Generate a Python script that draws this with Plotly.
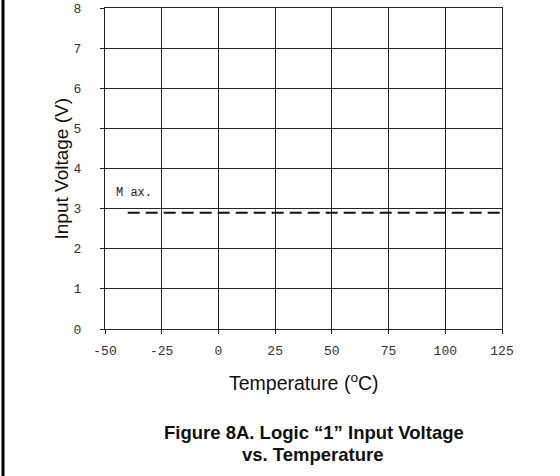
import plotly.graph_objects as go

# Data
temperature = [-40, 125]
vih_max = [2.9, 2.9]
x_ticks = [-50, -25, 0, 25, 50, 75, 100, 125]
y_ticks = [0, 1, 2, 3, 4, 5, 6, 7, 8]

W, H = 560, 476
L, R, T, B = 105, 58, 8, 147
pw, ph = W - L - R, H - T - B

def px_x(p):
    return (p - L) / pw

def px_y(p):
    return (H - B - p) / ph

fig = go.Figure()
fig.add_trace(go.Scatter(
    x=temperature, y=vih_max, mode="lines",
    line=dict(color="#111111", width=2, dash="12px,6px"),
    showlegend=False, hoverinfo="skip",
))

tickfont = dict(family="Liberation Mono, Courier New, monospace", size=13, color="#333333")
sans = "Liberation Sans, Arial, sans-serif"

fig.update_layout(
    width=W, height=H,
    margin=dict(l=L, r=R, t=T, b=B, pad=0),
    paper_bgcolor="white", plot_bgcolor="white",
    showlegend=False,
    xaxis=dict(
        range=[-50, 125], tickmode="array", tickvals=x_ticks,
        ticktext=[str(v) for v in x_ticks],
        showgrid=True, gridcolor="#222222", gridwidth=1,
        showline=True, linecolor="#222222", linewidth=1, mirror=True,
        ticks="outside", ticklen=4, tickcolor="#222222",
        tickfont=tickfont, zeroline=False, ticklabelstandoff=5,
        automargin=False,
    ),
    yaxis=dict(
        range=[0, 8], tickmode="array", tickvals=y_ticks,
        ticktext=[str(v) for v in y_ticks],
        showgrid=True, gridcolor="#222222", gridwidth=1,
        showline=True, linecolor="#222222", linewidth=1, mirror=True,
        ticks="outside", ticklen=4, tickcolor="#222222",
        tickfont=tickfont, zeroline=False, ticklabelstandoff=16,
        automargin=False,
    ),
    annotations=[
        dict(text="M ax.", x=-46, y=3.4, xref="x", yref="y", xanchor="left",
             yanchor="middle", showarrow=False,
             font=dict(family="Liberation Mono, Courier New, monospace", size=12, color="#222222")),
        dict(text="Input Voltage (V)", x=px_x(61.5), y=px_y(169), xref="paper", yref="paper",
             textangle=-90, showarrow=False, xanchor="center", yanchor="middle",
             font=dict(family=sans, size=19, color="#111111")),
        dict(text="Temperature (<sup>o</sup>C)", x=px_x(304), y=px_y(382), xref="paper", yref="paper",
             showarrow=False, xanchor="center", yanchor="middle",
             font=dict(family=sans, size=19.5, color="#111111")),
        dict(text="<b>Figure 8A. Logic \u201c1\u201d Input Voltage</b>", x=px_x(314), y=px_y(432),
             xref="paper", yref="paper", showarrow=False, xanchor="center", yanchor="middle",
             font=dict(family=sans, size=18.5, color="#111111")),
        dict(text="<b>vs. Temperature</b>", x=px_x(313), y=px_y(454),
             xref="paper", yref="paper", showarrow=False, xanchor="center", yanchor="middle",
             font=dict(family=sans, size=18.5, color="#111111")),
    ],
    shapes=[
        dict(type="line", xref="paper", yref="paper", x0=px_x(3), x1=px_x(3),
             y0=px_y(H), y1=px_y(0), line=dict(color="black", width=3)),
    ],
)

fig.write_html("out.html", config={"displayModeBar": False},
               post_script="document.body.style.margin='0';")
